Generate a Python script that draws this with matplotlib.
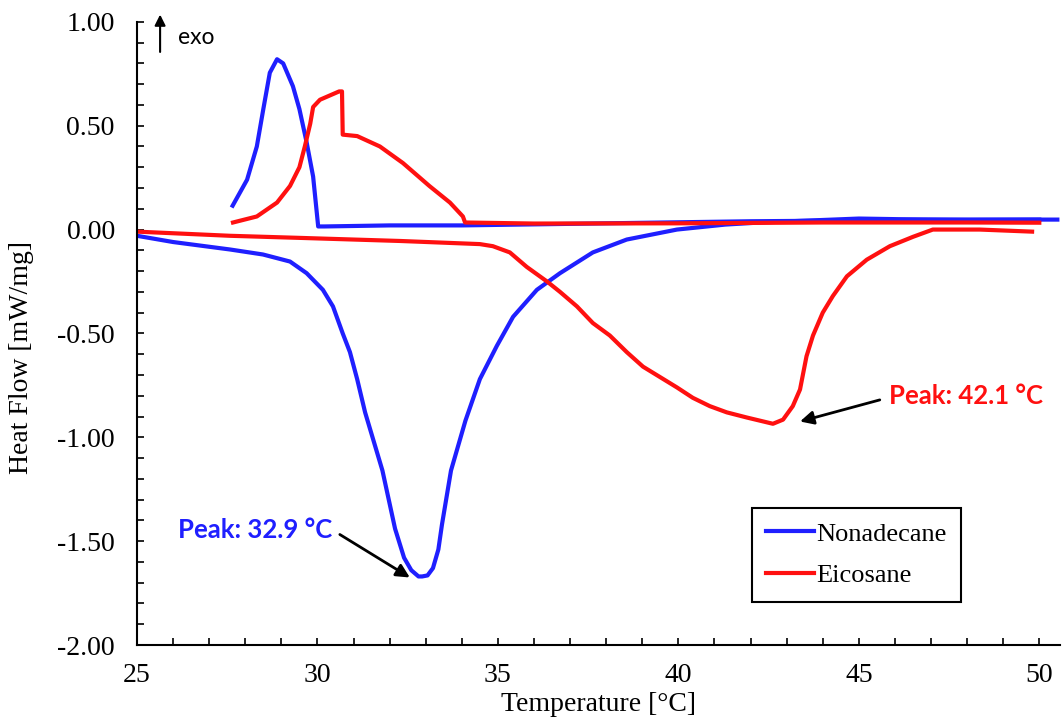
import numpy as np
import matplotlib.pyplot as plt
from matplotlib.ticker import MultipleLocator, FormatStrFormatter

# Nonadecane - heating run (endotherm)
nona_heat_t = [25.0, 26.0, 27.58, 28.49, 29.24, 29.7, 30.15, 30.43, 30.7, 30.9, 31.1,
               31.32, 31.8, 32.15, 32.4, 32.6, 32.8, 32.9, 33.05, 33.2, 33.35, 33.45,
               33.7, 34.1, 34.5, 34.97, 35.42, 36.08, 36.72, 37.63, 38.57, 39.96,
               41.3, 42.26, 43.4, 45.0, 46.1, 48.0, 50.5]
nona_heat_q = [-0.03, -0.06, -0.096, -0.12, -0.154, -0.21, -0.29, -0.37, -0.50, -0.59, -0.72,
               -0.88, -1.16, -1.44, -1.58, -1.64, -1.67, -1.67, -1.665, -1.63, -1.54, -1.42,
               -1.16, -0.92, -0.72, -0.56, -0.42, -0.29, -0.21, -0.11, -0.048, 0.0,
               0.024, 0.034, 0.042, 0.053, 0.05, 0.048, 0.048]

# Nonadecane - cooling run (exotherm)
nona_cool_t = [27.65, 28.05, 28.32, 28.5, 28.68, 28.88, 29.05, 29.32, 29.5, 29.7, 29.88,
               30.02, 30.2, 32.0, 34.0, 38.0, 42.0, 46.0, 50.0]
nona_cool_q = [0.115, 0.24, 0.40, 0.58, 0.755, 0.82, 0.80, 0.69, 0.58, 0.42, 0.255,
               0.015, 0.015, 0.02, 0.02, 0.03, 0.04, 0.045, 0.048]

# Eicosane - heating run
eico_heat_t = [25.0, 27.58, 29.5, 32.3, 34.5, 34.86, 35.33, 35.8, 36.36, 36.72, 37.19,
               37.63, 38.1, 38.57, 39.02, 39.49, 39.96, 40.4, 40.87, 41.34, 41.9, 42.62,
               42.9, 43.17, 43.37, 43.55, 43.73, 44.0, 44.28, 44.67, 45.22, 45.86,
               46.5, 47.05, 48.35, 49.8]
eico_heat_q = [-0.01, -0.03, -0.04, -0.055, -0.07, -0.08, -0.11, -0.18, -0.25, -0.30, -0.37,
               -0.45, -0.51, -0.59, -0.66, -0.71, -0.76, -0.81, -0.85, -0.88, -0.905, -0.935,
               -0.915, -0.85, -0.77, -0.61, -0.51, -0.40, -0.32, -0.225, -0.145, -0.08,
               -0.035, 0.0, 0.0, -0.01]

# Eicosane - cooling run
eico_cool_t = [27.66, 28.32, 28.88, 29.24, 29.5, 29.65, 29.8, 29.88, 30.07, 30.6, 30.68,
               30.7, 31.1, 31.73, 32.37, 33.1, 33.67, 34.03, 34.09, 36.0, 40.0, 44.0,
               48.0, 50.0]
eico_cool_q = [0.034, 0.063, 0.13, 0.21, 0.30, 0.40, 0.51, 0.59, 0.625, 0.665, 0.665,
               0.457, 0.45, 0.40, 0.32, 0.21, 0.13, 0.063, 0.034, 0.029, 0.030, 0.034,
               0.034, 0.033]

peak_nona = 32.9
peak_eico = 42.1

plt.rcParams["font.family"] = ["Liberation Serif"]

fig = plt.figure(figsize=(10.62, 7.28), dpi=100)
ax = fig.add_axes([0.129, 0.114, 0.869, 0.856])

blue = "#1f1fff"
red = "#ff1010"
ax.plot(nona_heat_t, nona_heat_q, color=blue, lw=3, label="Nonadecane")
ax.plot(nona_cool_t, nona_cool_q, color=blue, lw=3)
ax.plot(eico_heat_t, eico_heat_q, color=red, lw=3, label="Eicosane")
ax.plot(eico_cool_t, eico_cool_q, color=red, lw=3)

ax.set_xlim(25, 50.57)
ax.set_ylim(-2.0, 1.0)
ax.xaxis.set_major_locator(MultipleLocator(5))
ax.xaxis.set_minor_locator(MultipleLocator(1))
ax.yaxis.set_major_locator(MultipleLocator(0.5))
ax.yaxis.set_minor_locator(MultipleLocator(0.1))
ax.yaxis.set_major_formatter(FormatStrFormatter("%.2f"))

for side in ["top", "right"]:
    ax.spines[side].set_visible(False)
for side in ["left", "bottom"]:
    ax.spines[side].set_linewidth(1.5)
ax.tick_params(which="both", direction="in", length=5, width=1.2, labelsize=20)
ax.tick_params(axis="x", pad=13)
ax.tick_params(axis="y", pad=16)

ax.set_xlabel("Temperature [°C]", fontsize=20, labelpad=3)
ax.set_ylabel("Heat Flow [mW/mg]", fontsize=20)
ax.yaxis.set_label_coords(-0.112, 0.462)

# exo direction marker
ax.annotate("", xy=(25.64, 1.035), xytext=(25.64, 0.855), xycoords="data",
            arrowprops=dict(arrowstyle="-|>", color="black", lw=1.5, mutation_scale=16,
                            shrinkA=0, shrinkB=0),
            annotation_clip=False)
ax.text(26.14, 0.925, "exo", fontsize=16.5, family="Lato", va="center")

# peak labels with pointer arrows
ax.text(28.27, -1.444, f"Peak: {peak_nona} °C", color=blue, fontsize=18.5,
        fontweight="bold", family="Lato", ha="center", va="center")
ax.annotate("", xy=(32.56, -1.675), xytext=(30.62, -1.468),
            arrowprops=dict(arrowstyle="-|>", color="black", lw=2, mutation_scale=20,
                            shrinkA=0, shrinkB=0))
ax.text(47.96, -0.80, f"Peak: {peak_eico} °C", color=red, fontsize=18.5,
        fontweight="bold", family="Lato", ha="center", va="center")
ax.annotate("", xy=(43.37, -0.924), xytext=(45.58, -0.82),
            arrowprops=dict(arrowstyle="-|>", color="black", lw=2, mutation_scale=20,
                            shrinkA=0, shrinkB=0))

leg = ax.legend(loc="lower left", bbox_to_anchor=(0.666, 0.069), borderaxespad=0,
                fontsize=19, frameon=True, fancybox=False, edgecolor="black",
                handlelength=1.8, handletextpad=0.1, borderpad=0.55, labelspacing=0.7,
                framealpha=1)
leg.get_frame().set_linewidth(1.5)

fig.savefig("out.png", dpi=100)
